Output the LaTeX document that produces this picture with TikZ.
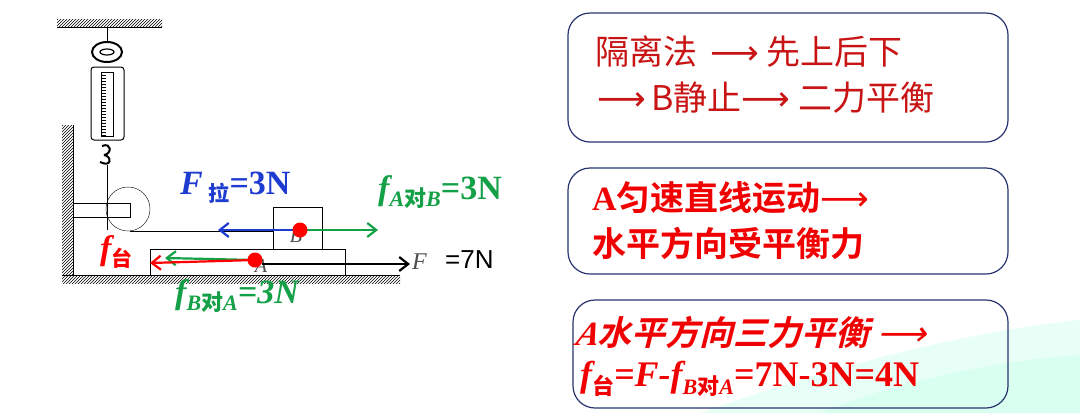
\documentclass[tikz,border=0pt]{standalone}
\usepackage{fontspec}
\setmainfont{Liberation Serif}
\newfontfamily\cjk{Noto Sans CJK SC}
\newfontfamily\cjkb{Noto Sans CJK SC Bold}
\newfontfamily\lsans{Liberation Sans}
\newfontfamily\dv{DejaVu Sans}
\newcommand{\larr}{{\dv ⟶}}
\usetikzlibrary{patterns,arrows.meta}
\definecolor{dred}{RGB}{200,20,20}
\definecolor{bred}{RGB}{240,0,0}
\definecolor{fgreen}{RGB}{20,160,70}
\definecolor{fblue}{RGB}{30,60,210}
\definecolor{bord}{RGB}{40,50,110}
\tikzset{
 hatch/.style={pattern=north east lines},
 box/.style={draw=bord,line width=1.2pt,rounded corners=22pt},
 force/.style={line width=2.2pt,-{Straight Barb[length=9pt,width=14pt]}},
 dot/.style={circle,fill=red,inner sep=0pt,minimum size=15pt},
}
\begin{document}
\begin{tikzpicture}[x=1pt,y=-1pt]
\useasboundingbox (0,0) rectangle (1080,413);
% decorative swoosh
\fill[green!30!cyan!15,opacity=0.6] (700,413) .. controls (850,360) and (980,330) .. (1080,320) -- (1080,413) -- cycle;
\fill[green!40!cyan!20,opacity=0.5] (820,413) .. controls (900,380) and (1000,360) .. (1080,355) -- (1080,413) -- cycle;
% ceiling
\fill[hatch] (57,19) rectangle (162,27);
\draw[line width=1pt] (57,27) -- (162,27);
\draw (107,27) -- (107,42);
\draw[line width=2pt] (107,52) ellipse (15pt and 10pt);
\draw[line width=1.2pt] (107,52) ellipse (7pt and 3pt);
\draw[line width=1pt,rounded corners=3pt] (91,67) rectangle (124,140);
\draw (101,72) rectangle (113,136);
\foreach \i in {0,...,20} \draw (101,{75+3*\i}) -- (106,{75+3*\i});
\draw[line width=2pt] (102,146) .. controls (112,142) and (112,154) .. (104,155);
\draw[line width=2pt] (104,155) .. controls (112,156) and (112,168) .. (100,162);
\draw (107,165) -- (107,230);
% wall
\fill[hatch] (62,125) rectangle (73,275);
\draw[line width=1pt] (73,125) -- (73,275);
\draw (73,203) rectangle (130,217);
\draw (128,209) circle (22);
\draw (130,231) -- (273,231);
% ground
\fill[hatch] (62,275) rectangle (400,283);
\draw[line width=1pt] (62,275) -- (400,275);
% blocks
\node[draw,minimum width=195pt,minimum height=26pt,inner sep=0pt,anchor=north west] (A) at (150,249) {};
\node[draw,fill=white,minimum width=49pt,minimum height=42pt,inner sep=0pt,anchor=north west] (B) at (273,207) {};
\node[font=\itshape\fontsize{20}{20}\selectfont,text=black!70] (Bl) at (296,236) {B};
\node[font=\itshape\fontsize{20}{20}\selectfont,text=black!70] (Al) at (261,266) {A};
% forces
\coordinate (bc) at (300,230);
\coordinate (ac) at (255,260);
\coordinate (bl) at (218,230);
\coordinate (br) at (378,230);
\coordinate (agl) at (165,258);
\coordinate (arl) at (150,263);
\coordinate (aF) at (410,264);
\draw[force,black] (262,264) -- (aF);
\draw[force,fgreen] (ac) -- (agl);
\draw[force,red] (ac) -- (arl);
\draw[force,fblue] (bc) -- (bl);
\draw[force,fgreen] (bc) -- (br);
\node[dot] (d1) at (bc) {};
\node[dot] (d2) at (ac) {};
% labels
\node[text=fblue,font=\bfseries\itshape\fontsize{34}{36}\selectfont,anchor=west,inner sep=0pt] (Fla) at (180,188) {F\,\raisebox{-7pt}{\cjk\fontsize{21}{21}\selectfont 拉}\upshape=3N};
\node[text=fgreen,font=\bfseries\itshape\fontsize{34}{36}\selectfont,anchor=west,inner sep=0pt] (fAB) at (378,192) {f\raisebox{-7pt}{\fontsize{22}{22}\selectfont A{\cjk\upshape 对}B}\upshape=3N};
\node[text=red,font=\bfseries\itshape\fontsize{34}{36}\selectfont,anchor=west,inner sep=0pt] (ft) at (100,252) {f\raisebox{-7pt}{\cjk\upshape\fontsize{21}{21}\selectfont 台}};
\node[text=fgreen,font=\bfseries\itshape\fontsize{34}{36}\selectfont,anchor=west,inner sep=0pt] (fBA) at (175,296) {f\raisebox{-7pt}{\fontsize{22}{22}\selectfont B{\cjk\upshape 对}A}=3N};
\node[font=\itshape\fontsize{24}{24}\selectfont,text=black!70,anchor=west,inner sep=0pt] (Fl) at (412,262) {F};
\node[font=\lsans\fontsize{26}{26}\selectfont,anchor=west,inner sep=0pt] (F7) at (445,260) {=7N};
% boxes
\draw[box] (568,13) rectangle (1008,142);
\draw[box] (568,168) rectangle (1008,274);
\draw[box] (573,300) rectangle (1008,408);
\node[text=dred,font=\cjk\fontsize{34}{34}\selectfont,anchor=west,inner sep=0pt] (t1) at (595,52) {隔离法 \,\larr{} 先上后下};
\node[text=dred,font=\cjk\fontsize{34}{34}\selectfont,anchor=west,inner sep=0pt] (t2) at (597,98) {\larr{}\,B静止\larr{} 二力平衡};
\node[text=bred,font=\cjkb\fontsize{34}{34}\selectfont,anchor=west,inner sep=0pt] (t3) at (592,198) {{\rmfamily\bfseries A}匀速直线运动\larr};
\node[text=bred,font=\cjkb\fontsize{34}{34}\selectfont,anchor=west,inner sep=0pt] (t4) at (592,243) {水平方向受平衡力};
\node[text=bred,font=\cjkb\fontsize{34}{34}\selectfont,anchor=west,xslant=0.25,inner sep=0pt] (t5) at (578,332) {{\rmfamily\bfseries\itshape A}水平方向三力平衡 \larr};
\node[text=bred,font=\bfseries\itshape\fontsize{36}{36}\selectfont,anchor=west,inner sep=0pt] (t6) at (580,379) {f\raisebox{-8pt}{\cjk\upshape\fontsize{22}{22}\selectfont 台}=F-f\raisebox{-8pt}{\fontsize{22}{22}\selectfont B{\cjk\upshape 对}A}\upshape=7N-3N=4N};
\end{tikzpicture}
\end{document}
